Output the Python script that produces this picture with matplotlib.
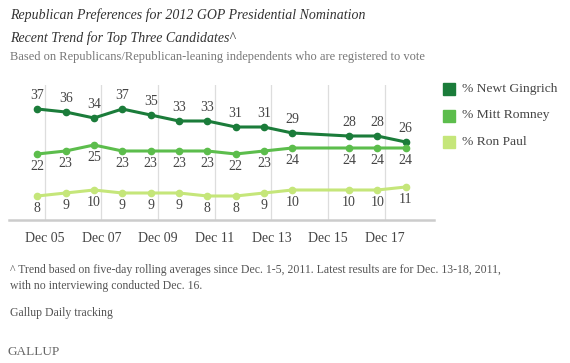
import matplotlib
matplotlib.use("Agg")
import matplotlib.pyplot as plt

days = [5, 6, 7, 8, 9, 10, 11, 12, 13, 14, 16, 17, 18]
gingrich = [37, 36, 34, 37, 35, 33, 33, 31, 31, 29, 28, 28, 26]
romney = [22, 23, 25, 23, 23, 23, 23, 22, 23, 24, 24, 24, 24]
paul = [8, 9, 10, 9, 9, 9, 8, 8, 9, 10, 10, 10, 11]
tick_days = [5, 7, 9, 11, 13, 15, 17]
tick_labels = ["Dec 05", "Dec 07", "Dec 09", "Dec 11", "Dec 13", "Dec 15", "Dec 17"]
series_names = ["% Newt Gingrich", "% Mitt Romney", "% Ron Paul"]
colors = ["#1b7c3a", "#5cbd4c", "#c5e67a"]

serif = "Liberation Serif"
lab_fs = 10

fig = plt.figure(figsize=(5.7, 3.63), dpi=100)
ax = fig.add_axes([9/570, 1-220/363, (434-9)/570, (220-85)/363])

shift = -0.26
x = [d + shift for d in days]
series = [gingrich, romney, paul]
for vals, col, name in zip(series, colors, series_names):
    ax.plot(x, vals, color=col, lw=2.2, marker="o", ms=4.5, label=name, zorder=3)

for xi, v in zip(x, gingrich):
    ax.annotate(str(v), (xi, v), xytext=(0, 5), textcoords="offset points",
                ha="center", va="bottom", fontsize=lab_fs, family=serif, color="#444444")
for vals in (romney, paul):
    for xi, v in zip(x, vals):
        ax.annotate(str(v), (xi, v), xytext=(0, -4), textcoords="offset points",
                    ha="center", va="top", fontsize=lab_fs, family=serif, color="#444444")

ax.set_xlim(x[0] - 1.0, x[-1] + 1.0)
ax.set_ylim(0, 45)
for t in tick_days:
    ax.axvline(t, color="#dddddd", lw=0.9, zorder=1)
ax.set_xticks(tick_days)
ax.set_xticklabels(tick_labels, family=serif, fontsize=lab_fs, color="#444444")
ax.tick_params(axis="x", length=0, pad=9)
ax.set_yticks([])
for s in ["top", "right", "left"]:
    ax.spines[s].set_visible(False)
ax.spines["bottom"].set_color("#cccccc")
ax.spines["bottom"].set_linewidth(1.8)

# legend
for i, (name, col) in enumerate(zip(series_names, colors)):
    yc = 89 + 26.5 * i
    fig.patches.append(plt.Rectangle((443/570, 1-(yc+6)/363), 12/570, 12/363,
                                     transform=fig.transFigure, color=col, figure=fig))
    fig.text(462/570, 1-yc/363, name, family=serif, fontsize=9.7, color="#444444", va="center")

fig.text(10/570, 1-15/363, "Republican Preferences for 2012 GOP Presidential Nomination",
         family=serif, style="italic", fontsize=10, color="#333333", va="center")
fig.text(10/570, 1-38/363, "Recent Trend for Top Three Candidates^",
         family=serif, style="italic", fontsize=10, color="#333333", va="center")
fig.text(10/570, 1-57/363, "Based on Republicans/Republican-leaning independents who are registered to vote",
         family=serif, fontsize=9, color="#777777", va="center")
fig.text(10/570, 1-270/363, "^ Trend based on five-day rolling averages since Dec. 1-5, 2011. Latest results are for Dec. 13-18, 2011,",
         family=serif, fontsize=8.5, color="#555555", va="center")
fig.text(10/570, 1-286/363, "with no interviewing conducted Dec. 16.",
         family=serif, fontsize=8.5, color="#555555", va="center")
fig.text(10/570, 1-313/363, "Gallup Daily tracking",
         family=serif, fontsize=8.5, color="#555555", va="center")
fig.text(7/570, 1-352/363, "GALLUP", family=serif, fontsize=9.5, color="#666666", va="center")

fig.savefig("out.png", dpi=100, facecolor="white")
